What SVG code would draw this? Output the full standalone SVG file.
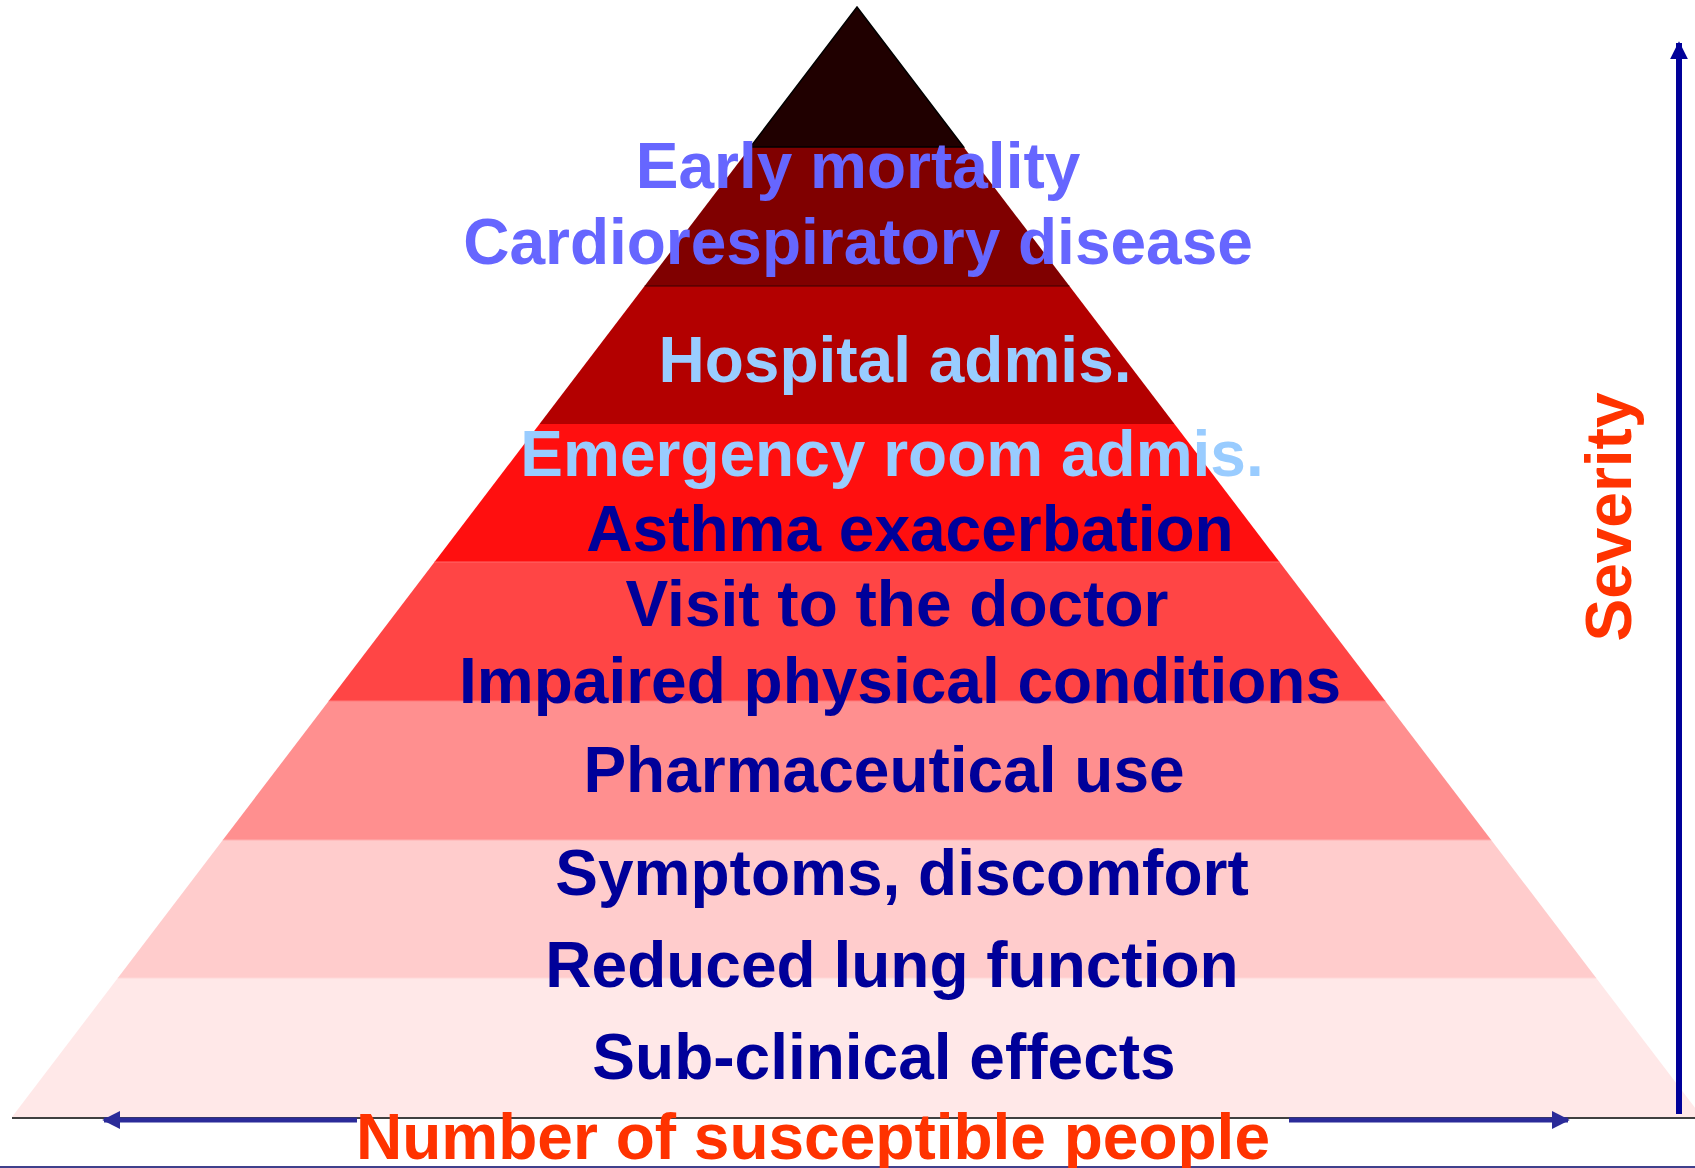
<svg xmlns="http://www.w3.org/2000/svg" width="1695" height="1168" viewBox="0 0 1695 1168">
<style>
text{font-family:"Liberation Sans",Arial,sans-serif;font-weight:bold;font-size:64px;text-anchor:middle}
.purple{fill:#6666FF}.light{fill:#99CCFF}.navy{fill:#000099}.orange{fill:#FF3300}
</style>
<defs>
<marker id="ah" viewBox="0 0 10 10" refX="9" refY="5" markerWidth="3.6" markerHeight="3.6" orient="auto" markerUnits="strokeWidth"><path d="M0,0 L10,5 L0,10 Z" fill="#2B2B99"/></marker>
<marker id="ahv" viewBox="0 0 10 10" refX="9" refY="5" markerWidth="3" markerHeight="3" orient="auto" markerUnits="strokeWidth"><path d="M0,0 L10,5 L0,10 Z" fill="#000099"/></marker>
</defs>
<rect width="1695" height="1168" fill="#FFFFFF"/>
<g id="pyramid">
<polygon id="band8" points="117.8,978 1596.2,978 1702,1117 12,1117" fill="#FFE8E8"/>
<polygon id="band7" points="222.8,840 1491.2,840 1596.2,978 117.8,978" fill="#FFCCCC"/>
<polygon id="band6" points="328.7,701 1385.3,701 1491.2,840 222.8,840" fill="#FF8F8F"/>
<polygon id="band5" points="434.5,562 1279.5,562 1385.3,701 328.7,701" fill="#FF4545"/>
<polygon id="band4" points="539.5,424 1174.5,424 1279.5,562 434.5,562" fill="#FF0F0F"/>
<polygon id="band3" points="644.6,286 1069.4,286 1174.5,424 539.5,424" fill="#B30000"/>
<polygon id="band2" points="750.4,147 963.6,147 1069.4,286 644.6,286" fill="#800000"/>
<polygon id="band1" points="857,7 963.6,147 750.4,147" fill="#200000" stroke="#000000" stroke-width="1.5"/>
<line x1="644.6" y1="286" x2="1069.4" y2="286" stroke="#3A0000" stroke-width="1.2"/>
<line x1="434.5" y1="562" x2="1279.5" y2="562" stroke="#FF6A6A" stroke-width="1"/>
<line x1="328.7" y1="701" x2="1385.3" y2="701" stroke="#FF7A7A" stroke-width="1"/>
<line x1="222.8" y1="840" x2="1491.2" y2="840" stroke="#FFB0B0" stroke-width="1"/>
<line x1="117.8" y1="978" x2="1596.2" y2="978" stroke="#FFD8D8" stroke-width="1"/>
</g>
<g id="labels">
<text class="purple" x="858" y="188">Early mortality</text>
<text class="purple" x="858" y="264">Cardiorespiratory disease</text>
<text class="light" x="895" y="382">Hospital admis.</text>
<text class="light" x="892" y="476">Emergency room admis.</text>
<text class="navy" x="910" y="551">Asthma exacerbation</text>
<text class="navy" x="897" y="626">Visit to the doctor</text>
<text class="navy" x="900" y="703">Impaired physical conditions</text>
<text class="navy" x="884" y="792">Pharmaceutical use</text>
<text class="navy" x="902" y="895">Symptoms, discomfort</text>
<text class="navy" x="892" y="987">Reduced lung function</text>
<text class="navy" x="884" y="1079">Sub-clinical effects</text>
</g>
<g id="connectors">
<line x1="12" y1="1118" x2="1695" y2="1118" stroke="#000000" stroke-width="1.5"/>
<line x1="0" y1="1167" x2="1695" y2="1167" stroke="#000066" stroke-width="1.5"/>
<line x1="357" y1="1120" x2="104" y2="1120" stroke="#2B2B99" stroke-width="5" marker-end="url(#ah)"/>
<line x1="1289" y1="1120" x2="1568" y2="1120" stroke="#2B2B99" stroke-width="5" marker-end="url(#ah)"/>
<line x1="1679" y1="1114" x2="1679" y2="43" stroke="#000099" stroke-width="6" marker-end="url(#ahv)"/>
</g>
<g id="axis-labels">
<text class="orange" x="813" y="1159">Number of susceptible people</text>
<text class="orange" transform="translate(1631,517) rotate(-90)">Severity</text>
</g>
</svg>
